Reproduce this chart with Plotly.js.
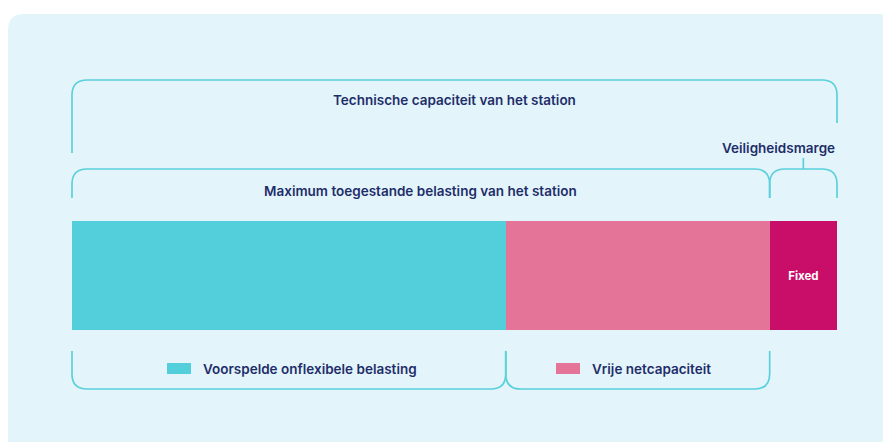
<!DOCTYPE html>
<html>
<head>
<meta charset="utf-8">
<script src="https://cdn.plot.ly/plotly-3.0.1.min.js"></script>
<style>
html,body{margin:0;padding:0;background:#ffffff;}
#chart{width:883px;height:442px;}
</style>
</head>
<body>
<div id="chart"></div>
<script>
// ---- data ----
const categories = ["Voorspelde onflexibele belasting", "Vrije netcapaciteit", "Fixed"];
const values = [56.7, 34.5, 8.8];
const colors = ["#53cedb", "#e57598", "#c90e6a"];
const legendLabels = ["Voorspelde onflexibele belasting", "Vrije netcapaciteit"];
const bracketTop = "Technische capaciteit van het station";
const bracketMax = "Maximum toegestande belasting van het station";
const bracketMargin = "Veiligheidsmarge";
const segmentLabel = "Fixed";

// ---- layout geometry ----
const W = 883, H = 442;
const px0 = 72, px1 = 837;
const total = values.reduce((a, b) => a + b, 0);
const u = total / (px1 - px0);          // data units per pixel
const X = px => (px - px0) * u;          // pixel -> data x
const a = values[0];
const ab = values[0] + values[1];

const navy = "#1f2d6b";
const lineCol = "#5bd0dd";
const font = {family: "Inter, 'Open Sans', sans-serif", size: 13.5, color: navy, weight: 600};

const traces = categories.map((c, i) => ({
  type: "bar",
  orientation: "h",
  name: c,
  x: [values[i]],
  y: [275.5],
  width: [109],
  marker: {color: colors[i], line: {width: 0}},
  text: [i === 2 ? segmentLabel : ""],
  textposition: "inside",
  insidetextanchor: "middle",
  textfont: {family: "Inter, sans-serif", size: 11.5, color: "#ffffff", weight: 700},
  hoverinfo: "skip",
  showlegend: false
}));

const r = 15, rx = r * u;
function topBracket(x0, x1, yTop, yL, yR) {
  return `M${x0},${yL} V${yTop + r} Q${x0},${yTop} ${x0 + rx},${yTop} H${x1 - rx} Q${x1},${yTop} ${x1},${yTop + r} V${yR}`;
}
function botBracket(x0, x1, yTop, yBot) {
  return `M${x0},${yTop} V${yBot - r} Q${x0},${yBot} ${x0 + rx},${yBot} H${x1 - rx} Q${x1},${yBot} ${x1},${yBot - r} V${yTop}`;
}
const ln = {color: lineCol, width: 1.7};
const mid = (ab + total) / 2;

const shapes = [
  // panel
  {type: "path", xref: "x", yref: "y", layer: "below",
   path: `M${X(8)},${H + 5} V${14 + 16} Q${X(8)},14 ${X(8 + 16)},14 H${X(W + 10)} V${H + 5} Z`,
   fillcolor: "#e3f5fa", line: {width: 0}},
  {type: "path", xref: "x", yref: "y", path: topBracket(0, total, 80, 153, 123), line: ln},
  {type: "path", xref: "x", yref: "y", path: topBracket(0, ab, 169, 198, 198), line: ln},
  {type: "path", xref: "x", yref: "y", path: topBracket(ab, total, 169, 198, 198), line: ln},
  {type: "path", xref: "x", yref: "y", path: `M${mid},169 V158`, line: ln},
  {type: "path", xref: "x", yref: "y", path: botBracket(0, a, 351, 389), line: ln},
  {type: "path", xref: "x", yref: "y", path: botBracket(a, ab, 351, 389), line: ln},
  // legend swatches
  {type: "rect", xref: "x", yref: "y", x0: X(167), x1: X(191), y0: 363, y1: 374, fillcolor: colors[0], line: {width: 0}},
  {type: "rect", xref: "x", yref: "y", x0: X(556), x1: X(580), y0: 363, y1: 374, fillcolor: colors[1], line: {width: 0}}
];

const annotations = [
  {x: total / 2, y: 100, text: bracketTop, showarrow: false, xanchor: "center", yanchor: "middle", font},
  {x: ab / 2, y: 191, text: bracketMax, showarrow: false, xanchor: "center", yanchor: "middle", font},
  {x: total, y: 148, text: bracketMargin, showarrow: false, xanchor: "right", yanchor: "middle", font},
  {x: X(201), y: 369, text: legendLabels[0], showarrow: false, xanchor: "left", yanchor: "middle", font},
  {x: X(590), y: 369, text: legendLabels[1], showarrow: false, xanchor: "left", yanchor: "middle", font}
];

const layout = {
  width: W, height: H,
  margin: {l: 0, r: 0, t: 0, b: 0},
  paper_bgcolor: "#ffffff",
  plot_bgcolor: "rgba(0,0,0,0)",
  barmode: "stack",
  bargap: 0,
  showlegend: false,
  xaxis: {range: [X(0), X(W)], visible: false, fixedrange: true},
  yaxis: {range: [H, 0], visible: false, fixedrange: true},
  shapes, annotations
};

Plotly.newPlot("chart", traces, layout, {staticPlot: true, displayModeBar: false});
</script>
</body>
</html>
